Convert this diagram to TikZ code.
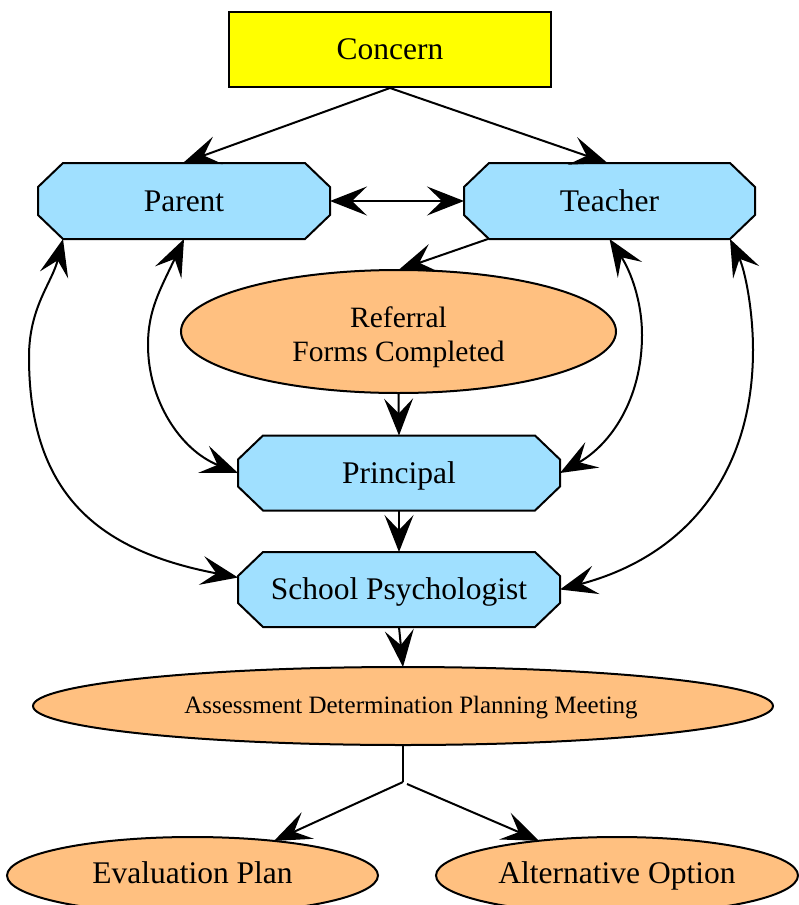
\documentclass[tikz,border=0pt]{standalone}
\usepackage{fontspec}
\setmainfont{Liberation Serif}
\usetikzlibrary{arrows.meta,shapes.geometric,backgrounds}
\definecolor{octfill}{HTML}{A0E0FF}
\definecolor{ellfill}{HTML}{FFC080}
\definecolor{boxfill}{HTML}{FFFF00}
\tikzset{
  vee/.tip={Stealth[length=37pt,width=29pt,inset=15pt]},
  bigtext/.style={font=\fontsize{31.5}{34}\selectfont, text height=24pt, text depth=4pt},
  rectbox/.style={draw, fill=boxfill, rectangle, minimum width=322pt, minimum height=75pt, inner sep=0pt, line width=2pt, bigtext},
  octnode/.style={draw=none, rectangle, inner sep=0pt, outer sep=0pt, bigtext},
  octline/.style={draw=black, fill=octfill, line join=miter, line width=2pt},
  ellnode/.style={draw, fill=ellfill, ellipse, inner sep=0pt, outer sep=0pt, line width=2pt},
  edge/.style={draw, line width=2pt, -vee},
  dedge/.style={draw, line width=2pt, vee-vee},
}
\newcommand\octo[1]{%
  \begin{scope}[on background layer]
    \filldraw[octline] ([xshift=25pt]#1.north west) -- ([xshift=-25pt]#1.north east)
      -- ([yshift=-24pt]#1.north east) -- ([yshift=24pt]#1.south east)
      -- ([xshift=-25pt]#1.south east) -- ([xshift=25pt]#1.south west)
      -- ([yshift=24pt]#1.south west) -- ([yshift=-24pt]#1.north west) -- cycle;
  \end{scope}}
\begin{document}
\begin{tikzpicture}[x=1pt,y=-1pt,line width=2pt]
\useasboundingbox (0,0) rectangle (799,905);
\clip (0,0) rectangle (799,905);
% nodes
\node[rectbox] (concern) at (390,49.5) {Concern};
\node[octnode, minimum width=292pt, minimum height=76pt] (parent) at (184,201) {Parent};
\node[octnode, minimum width=291pt, minimum height=76pt] (teacher) at (609.5,201) {Teacher};
\node[ellnode, minimum width=435pt, minimum height=123pt,
      font=\fontsize{29.5}{34}\selectfont] (referral) at (398.5,331.5)
      {\raisebox{-12pt}[0pt][0pt]{\begin{tabular}{@{}c@{}}Referral\\Forms Completed\end{tabular}}};
\node[octnode, minimum width=322pt, minimum height=75pt] (principal) at (399,473) {Principal};
\node[octnode, minimum width=322pt, minimum height=75pt] (psych) at (399,589.5) {School Psychologist};
\node[ellnode, minimum width=740pt, minimum height=78pt,
      font=\fontsize{25}{28}\selectfont, text height=18pt, text depth=4pt] (assess) at (403,706) {\hspace*{16pt}Assessment Determination Planning Meeting};
\node[ellnode, minimum width=371pt, minimum height=77pt,
      font=\fontsize{31.5}{34}\selectfont, text height=22pt, text depth=6.5pt] (eval) at (192.5,875.5) {Evaluation Plan};
\node[ellnode, minimum width=362pt, minimum height=77pt,
      font=\fontsize{31.5}{34}\selectfont, text height=22pt, text depth=6.5pt] (alt) at (617,875.5) {Alternative Option};
\octo{parent}
\octo{teacher}
\octo{principal}
\octo{psych}
\coordinate (split) at (403,782);
\coordinate (splitb) at (407,784);
% edges
\path[edge] (concern.south) -- ([xshift=-1pt]parent.north);
\path[edge] (concern.south) -- ([xshift=-2pt]teacher.north);
\path[dedge] (parent.east) -- (teacher.west);
\path[edge] ([xshift=24pt]teacher.south west) -- (referral.north);
\path[edge] (referral.south) -- (principal.north);
\path[edge] (principal.south) -- (psych.north);
\path[edge] (psych.south) -- (assess.north);
\path[draw, line width=2pt] (assess.south) -- (split);
\path[edge] (split) -- (eval.23);
\path[edge] (splitb) -- (alt.156);
% curved two-way edges
\path[dedge] (parent.south) .. controls (160,290) and (148,310) .. (148,345)
  .. controls (148,400) and (180,450) .. (principal.west);
\path[dedge] ([xshift=25pt]parent.south west) .. controls (52,283) and (29,307) .. (29,357)
  .. controls (29,500) and (105,552) .. ([yshift=12pt]psych.west);
\path[dedge] (teacher.south) .. controls (630,270) and (642,300) .. (642,335)
  .. controls (642,400) and (610,445) .. (principal.east);
\path[dedge] ([xshift=-25pt]teacher.south east) .. controls (745,270) and (753,310) .. (753,350)
  .. controls (753,470) and (690,555) .. (psych.east);
\end{tikzpicture}
\end{document}
